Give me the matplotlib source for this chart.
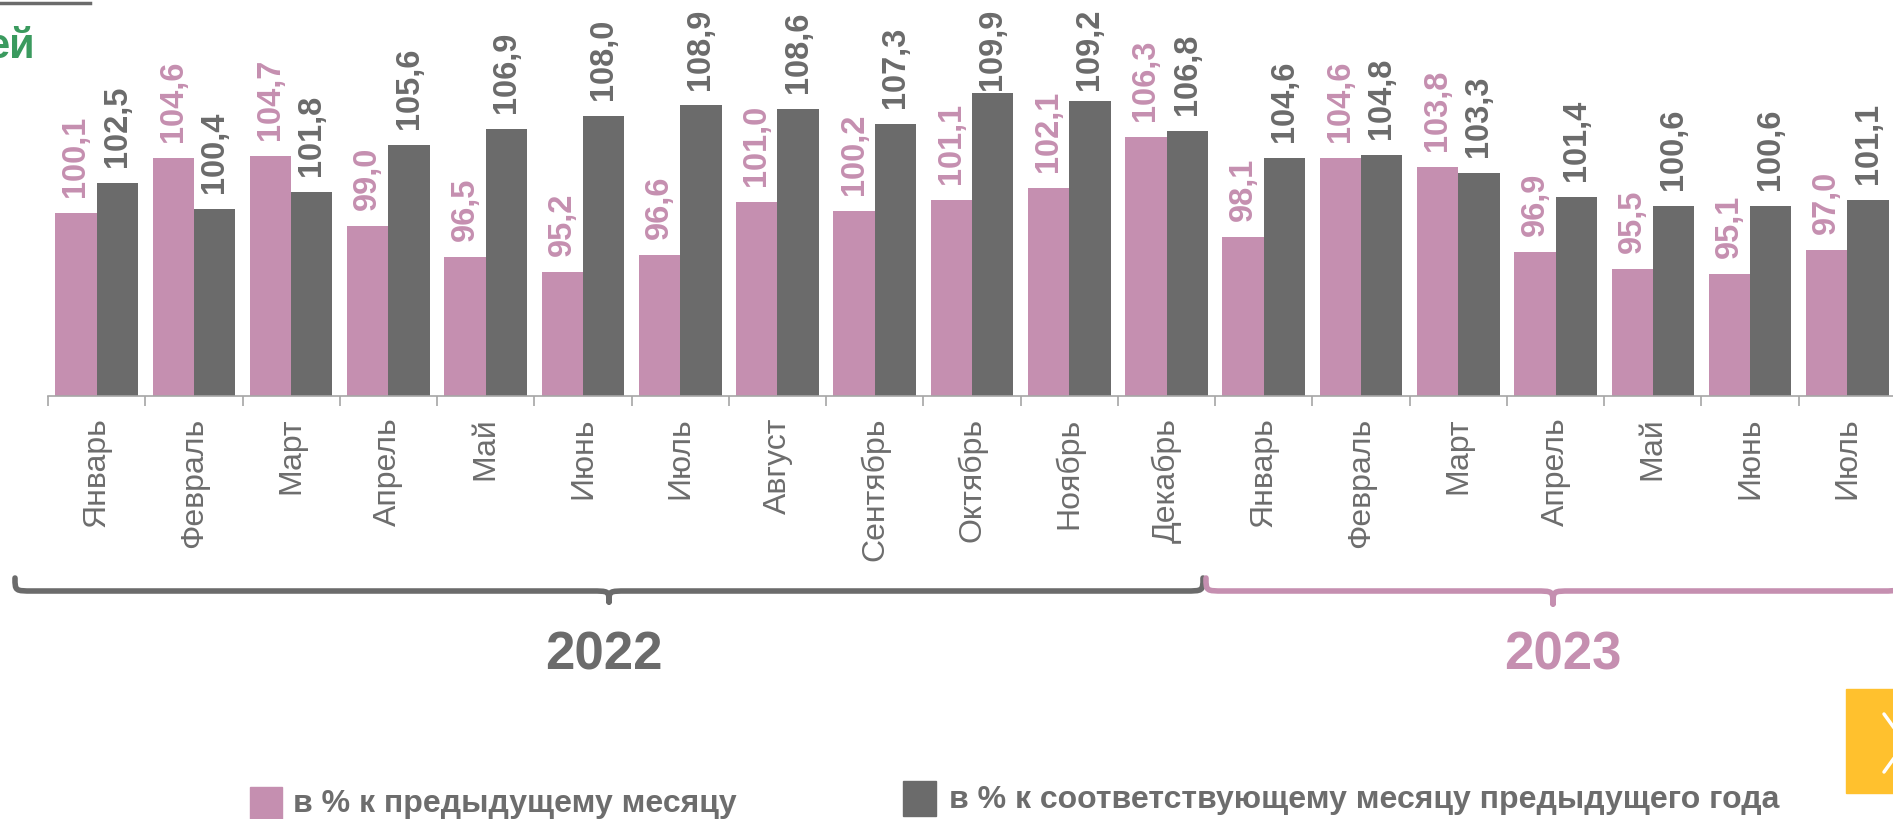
import matplotlib
matplotlib.use("Agg")
import matplotlib.pyplot as plt
from matplotlib.path import Path
from matplotlib.patches import PathPatch, Rectangle
import numpy as np

plt.rcParams['font.family'] = ['Liberation Sans', 'DejaVu Sans']

months = ["Январь", "Февраль", "Март", "Апрель", "Май", "Июнь", "Июль",
          "Август", "Сентябрь", "Октябрь", "Ноябрь", "Декабрь",
          "Январь", "Февраль", "Март", "Апрель", "Май", "Июнь", "Июль"]
prev_month = [100.1, 104.6, 104.7, 99.0, 96.5, 95.2, 96.6, 101.0, 100.2, 101.1,
              102.1, 106.3, 98.1, 104.6, 103.8, 96.9, 95.5, 95.1, 97.0]
prev_year = [102.5, 100.4, 101.8, 105.6, 106.9, 108.0, 108.9, 108.6, 107.3, 109.9,
             109.2, 106.8, 104.6, 104.8, 103.3, 101.4, 100.6, 100.6, 101.1]
years = ["2022", "2023"]
legend_labels = ["в % к предыдущему месяцу", "в % к соответствующему месяцу предыдущего года"]

PINK = "#C58FB0"
GREY = "#6B6B6B"
TXT = "#6D6D6D"

W, H = 1893, 819
fig = plt.figure(figsize=(W / 100, H / 100), dpi=100)
left_px, right_px, base_px, top_px = 48, 1896, 396, 29.4
ax = fig.add_axes([left_px / W, 1 - base_px / H, (right_px - left_px) / W, (base_px - top_px) / H])

n = len(months)
x = np.arange(n)
bw = 0.425
ax.bar(x - bw / 2, prev_month, width=bw, bottom=0, color=PINK, zorder=2)
ax.bar(x + bw / 2, prev_year, width=bw, bottom=0, color=GREY, zorder=2)
ax.set_ylim(85.1, 85.1 + (base_px - top_px) / 12.23)
ax.set_xlim(-0.5, n - 0.5)

def fmt(v):
    return f"{v:.1f}".replace(".", ",")

OFF = 16
labels = []
for i in range(n):
    labels.append(ax.annotate(fmt(prev_month[i]), (x[i] - bw / 2, prev_month[i]), xytext=(0, OFF),
                textcoords="offset pixels", rotation=90, ha="center", va="bottom",
                color=PINK, fontsize=23.5, fontweight="bold", annotation_clip=False))
    labels.append(ax.annotate(fmt(prev_year[i]), (x[i] + bw / 2, prev_year[i]), xytext=(0, OFF),
                textcoords="offset pixels", rotation=90, ha="center", va="bottom",
                color=GREY, fontsize=23.5, fontweight="bold", annotation_clip=False))

for s in ["top", "left", "right"]:
    ax.spines[s].set_visible(False)
ax.spines["bottom"].set_color("#A6A6A6")
ax.spines["bottom"].set_linewidth(1.2)
ax.set_yticks([])
ax.set_xticks(np.arange(-0.5, n, 1.0))
ax.set_xticklabels([])
ax.tick_params(axis="x", which="major", length=7, width=1.2, color="#A6A6A6")
ax.set_xticks(x, minor=True)
ax.set_xticklabels(months, minor=True, rotation=90, ha="center", va="top",
                   fontsize=23, color=TXT)
ax.tick_params(axis="x", which="minor", length=0, pad=15.5)

# keep value labels inside the chart area (like the original: pushed down near the top)
fig.canvas.draw()
renderer = fig.canvas.get_renderer()
limit = H - 9
for t in labels:
    bb = t.get_window_extent(renderer)
    if bb.y1 > limit:
        t.xyann = (0, OFF - (bb.y1 - limit))

# overlay for decorations
ov = fig.add_axes([0, 0, 1, 1], facecolor="none")
ov.set_xlim(0, W)
ov.set_ylim(H, 0)
ov.axis("off")

def brace(x0, x1, ytop, yline, ytip, r, color):
    xm = (x0 + x1) / 2
    verts = [(x0, ytop), (x0, yline), (x0, yline), (x0 + r, yline),
             (xm - r, yline), (xm, yline), (xm, yline), (xm, ytip),
             (xm, yline), (xm, yline), (xm + r, yline),
             (x1 - r, yline), (x1, yline), (x1, yline), (x1, ytop)]
    codes = [Path.MOVETO, Path.CURVE4, Path.CURVE4, Path.CURVE4,
             Path.LINETO, Path.CURVE4, Path.CURVE4, Path.CURVE4,
             Path.CURVE4, Path.CURVE4, Path.CURVE4,
             Path.LINETO, Path.CURVE4, Path.CURVE4, Path.CURVE4]
    ov.add_patch(PathPatch(Path(verts, codes), fill=False, edgecolor=color,
                           lw=4.0, capstyle="round", joinstyle="round"))

brace(15, 1203, 578, 591, 602, 18, GREY)
brace(1206, 1900, 578, 591, 604, 18, PINK)

ov.text(604, 655, years[0], ha="center", va="center", fontsize=38,
        fontweight="bold", color=GREY)
ov.text(1563, 655, years[1], ha="center", va="center", fontsize=38,
        fontweight="bold", color=PINK)

# legend
ov.add_patch(Rectangle((250, 787), 32, 34, color=PINK))
ov.text(293, 804, legend_labels[0], ha="left", va="center", fontsize=23,
        fontweight="bold", color=TXT)
ov.add_patch(Rectangle((903, 781), 33, 35, color=GREY))
ov.text(949, 800, legend_labels[1], ha="left", va="center", fontsize=23,
        fontweight="bold", color=TXT)

# top-left remnants
ov.plot([0, 90], [3, 3], color=GREY, lw=2.5)
ov.text(35, 47, "ей", ha="right", va="center", fontsize=30, fontweight="bold",
        color="#3A9A5E")

# yellow nav button
ov.add_patch(Rectangle((1846, 689), 60, 104, color="#FFC12E"))
ov.plot([1884, 1905, 1884], [714, 743, 772], color="white", lw=2.5,
        solid_capstyle="round")

fig.savefig("out.png", dpi=100)
